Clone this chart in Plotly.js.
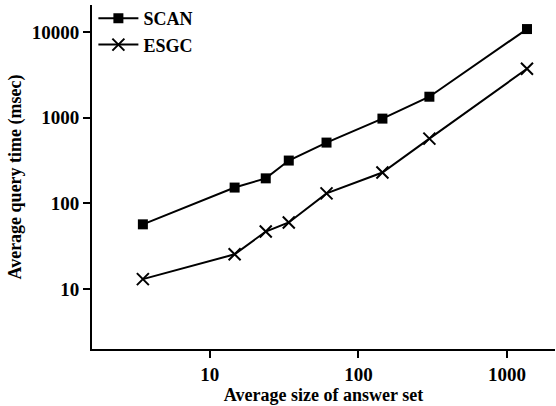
<!DOCTYPE html>
<html>
<head>
<meta charset="utf-8">
<script src="https://cdn.plot.ly/plotly-3.0.1.min.js"></script>
<style>html,body{margin:0;padding:0;background:#fff;}</style>
</head>
<body>
<div id="chart" style="width:556px;height:406px;"></div>
<script>
const answerSize = [3.55, 14.7, 23.8, 34, 61, 145, 300, 1360];
const scanTime = [57, 153, 196, 316, 512, 975, 1755, 10800];
const esgcTime = [13.1, 25.5, 47, 60, 131, 229, 570, 3720];
const seriesNames = ["SCAN", "ESGC"];
const xTicks = [10, 100, 1000];
const yTicks = [10, 100, 1000, 10000];

const fam = "Liberation Serif, Times New Roman, serif";
const tf = {family: fam, size: 18, color: "#000", weight: "bold"};
const tickf = {family: fam, size: 19, color: "#000", weight: "bold"};

const traces = [
  {
    x: answerSize, y: scanTime, name: seriesNames[0], type: "scatter", mode: "lines+markers",
    line: {color: "#000", width: 2},
    marker: {symbol: "square", size: 10, color: "#000"}
  },
  {
    x: answerSize, y: esgcTime, name: seriesNames[1], type: "scatter", mode: "lines+markers",
    line: {color: "#000", width: 2},
    marker: {symbol: "x-thin", size: 12, color: "#000", line: {color: "#000", width: 2}}
  }
];

const layout = {
  width: 556, height: 406,
  margin: {l: 92, r: 1, t: 5, b: 57, autoexpand: false},
  paper_bgcolor: "#fff", plot_bgcolor: "#fff",
  font: {family: fam, size: 18, color: "#000"},
  showlegend: true,
  legend: {x: 0.003, y: 1.0, xanchor: "left", yanchor: "top", yref: "container", bgcolor: "rgba(0,0,0,0)",
           font: tf, tracegroupgap: 0, itemwidth: 40},
  xaxis: {
    type: "log", range: [0.208, 3.322],
    showgrid: false, zeroline: false,
    showline: true, linecolor: "#000", linewidth: 2,
    ticks: "outside", ticklen: 7, tickwidth: 2, tickcolor: "#000",
    tickvals: xTicks, ticktext: xTicks.map(String),
    tickfont: tickf,
    title: {text: "Average size of answer set", font: tf, standoff: 3}
  },
  yaxis: {
    type: "log", range: [0.302, 4.314],
    showgrid: false, zeroline: false,
    showline: true, linecolor: "#000", linewidth: 2,
    ticks: "outside", ticklen: 7, tickwidth: 2, tickcolor: "#000",
    tickvals: yTicks, ticktext: yTicks.map(String),
    tickfont: tickf,
    title: {text: "Average query time (msec)", font: tf, standoff: 5}
  }
};

Plotly.newPlot("chart", traces, layout, {displayModeBar: false, staticPlot: true});
</script>
</body>
</html>
